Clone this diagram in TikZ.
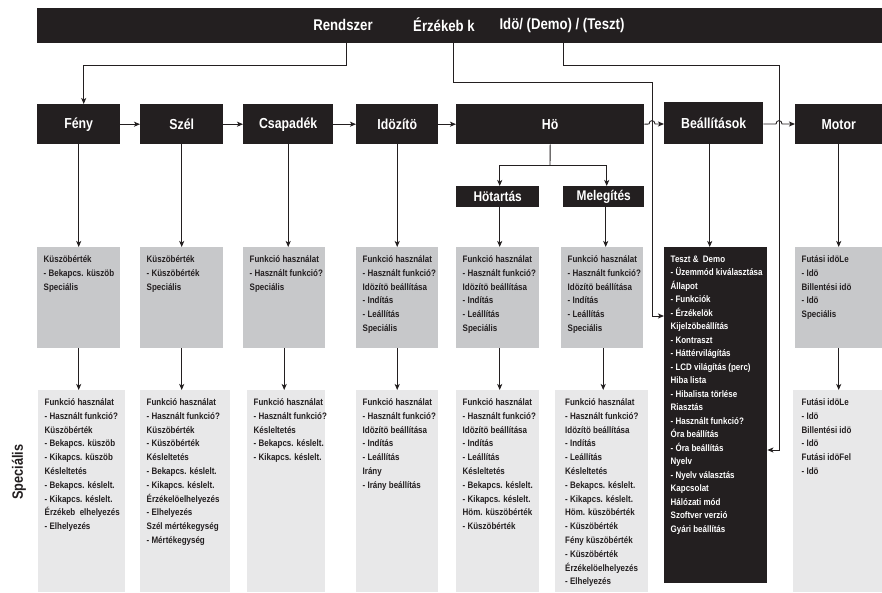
\documentclass[tikz,border=0pt]{standalone}
\usepackage{fontspec}
\setmainfont{Liberation Sans}[FakeStretch=0.85]
\usetikzlibrary{arrows.meta}
\definecolor{ink}{HTML}{231F20}
\definecolor{gA}{HTML}{C7C8CA}
\definecolor{gB}{HTML}{E8E8E9}
\begin{document}
\begin{tikzpicture}[x=1pt,y=-1pt,
  arr/.style={draw=ink, line width=0.9pt, -{Stealth[length=6pt,width=5pt,inset=1.5pt]}},
  ln/.style={draw=ink, line width=0.9pt},
  hdr/.style={fill=ink, text=white, inner sep=0pt, anchor=north west, font=\bfseries\fontsize{14.5}{16}\selectfont},
  gboxA/.style={fill=gA, inner sep=0pt, anchor=north west},
  gboxB/.style={fill=gB, inner sep=0pt, anchor=north west},
  kbox/.style={fill=ink, inner sep=0pt, anchor=north west},
  btxt/.style={anchor=north west, inner sep=0pt, align=left, text=ink, font=\bfseries\fontsize{9.4}{13.8}\selectfont},
  wtxt/.style={anchor=north west, inner sep=0pt, align=left, text=white, font=\bfseries\fontsize{9.4}{13.5}\selectfont},
  toptxt/.style={text=white, inner sep=0pt, font=\bfseries\fontsize{15.5}{18}\selectfont},
  sidetxt/.style={text=ink, inner sep=0pt, rotate=90, font=\bfseries\fontsize{15}{17}\selectfont}
]
\useasboundingbox (0,0) rectangle (882,592);
\fill[white] (0,0) rectangle (882,592);

% top bar
\node[kbox, minimum width=845pt, minimum height=35pt] (top) at (37,8) {};
\node[toptxt] (rendszer) at (343,25) {Rendszer};
\node[toptxt] (erz) at (444,25) {Érzékeb k};
\node[toptxt] (ido) at (562,25) {Idö/ (Demo) / (Teszt)};

% row 1 headers
\node[hdr, minimum width=83pt, minimum height=40pt] (fenyA) at (37,104) {Fény};
\node[hdr, minimum width=83pt, minimum height=40pt] (szelA) at (140,104) {Szél};
\node[hdr, minimum width=90pt, minimum height=40pt] (csapA) at (243,104) {Csapadék};
\node[hdr, minimum width=82pt, minimum height=40pt] (idozA) at (356,104) {Idözítö};
\node[hdr, minimum width=188pt, minimum height=40pt] (hoA) at (456,104) {Hö};
\node[hdr, minimum width=99pt, minimum height=42pt] (beaA) at (664,102) {Beállítások};
\node[hdr, minimum width=87pt, minimum height=40pt] (motA) at (795,104) {Motor};
\node[hdr, minimum width=83pt, minimum height=21pt, font=\bfseries\fontsize{14}{16}\selectfont] (hotA) at (456,186) {Hötartás};
\node[hdr, minimum width=81pt, minimum height=21pt, font=\bfseries\fontsize{14}{16}\selectfont] (melA) at (563,186) {Melegítés};

% row 2 boxes
\node[gboxA, minimum width=83pt, minimum height=101pt] (fenyB) at (37,247) {};
\node[gboxA, minimum width=83pt, minimum height=101pt] (szelB) at (140,247) {};
\node[gboxA, minimum width=82pt, minimum height=101pt] (csapB) at (243,247) {};
\node[gboxA, minimum width=82pt, minimum height=101pt] (idozB) at (356,247) {};
\node[gboxA, minimum width=83pt, minimum height=101pt] (hotB) at (456,247) {};
\node[gboxA, minimum width=82pt, minimum height=101pt] (melB) at (561,247) {};
\node[kbox, minimum width=103pt, minimum height=336pt] (beaB) at (664,247) {};
\node[gboxA, minimum width=87pt, minimum height=101pt] (motB) at (795,247) {};

% row 3 boxes
\node[gboxB, minimum width=87pt, minimum height=202pt] (fenyC) at (38,390) {};
\node[gboxB, minimum width=90pt, minimum height=202pt] (szelC) at (140,390) {};
\node[gboxB, minimum width=78pt, minimum height=202pt] (csapC) at (247,390) {};
\node[gboxB, minimum width=82pt, minimum height=202pt] (idozC) at (356,390) {};
\node[gboxB, minimum width=83pt, minimum height=202pt] (hoC) at (456,390) {};
\node[gboxB, minimum width=93pt, minimum height=202pt] (melC) at (555,390) {};
\node[gboxB, minimum width=89pt, minimum height=202pt] (motC) at (793,390) {};

% row 2 texts
\node[btxt] at ([shift={(6.5pt,-5.6pt)}]fenyB.north west) {\strut Küszöbérték\\- Bekapcs. küszöb\\Speciális};
\node[btxt] at ([shift={(6.5pt,-5.6pt)}]szelB.north west) {\strut Küszöbérték\\- Küszöbérték\\Speciális};
\node[btxt] at ([shift={(6.5pt,-5.6pt)}]csapB.north west) {\strut Funkció használat\\- Használt funkció?\\Speciális};
\node[btxt] at ([shift={(6.5pt,-5.6pt)}]idozB.north west) {\strut Funkció használat\\- Használt funkció?\\Idözítö beállítása\\- Indítás\\- Leállítás\\Speciális};
\node[btxt] at ([shift={(6.5pt,-5.6pt)}]hotB.north west) {\strut Funkció használat\\- Használt funkció?\\Idözítö beállítása\\- Indítás\\- Leállítás\\Speciális};
\node[btxt] at ([shift={(6.5pt,-5.6pt)}]melB.north west) {\strut Funkció használat\\- Használt funkció?\\Idözítö beállítása\\- Indítás\\- Leállítás\\Speciális};
\node[wtxt] at ([shift={(6.5pt,-5.6pt)}]beaB.north west) {\strut Teszt \&\ \ Demo\\- Üzemmód kiválasztása\\Állapot\\- Funkciók\\- Érzékelök\\Kijelzöbeállítás\\- Kontraszt\\- Háttérvilágítás\\- LCD világítás (perc)\\Hiba lista\\- Hibalista törlése\\Riasztás\\- Használt funkció?\\Óra beállítás\\- Óra beállítás\\Nyelv\\- Nyelv választás\\Kapcsolat\\Hálózati mód\\Szoftver verzió\\Gyári beállítás};
\node[btxt] at ([shift={(6.5pt,-5.6pt)}]motB.north west) {\strut Futási idöLe\\- Idö\\Billentési idö\\- Idö\\Speciális};

% row 3 texts
\node[btxt] at ([shift={(6.5pt,-5.6pt)}]fenyC.north west) {\strut Funkció használat\\- Használt funkció?\\Küszöbérték\\- Bekapcs. küszöb\\- Kikapcs. küszöb\\Késleltetés\\- Bekapcs. késlelt.\\- Kikapcs. késlelt.\\Érzékeb\ \ elhelyezés\\- Elhelyezés};
\node[btxt] at ([shift={(6.5pt,-5.6pt)}]szelC.north west) {\strut Funkció használat\\- Használt funkció?\\Küszöbérték\\- Küszöbérték\\Késleltetés\\- Bekapcs. késlelt.\\- Kikapcs. késlelt.\\Érzékelöelhelyezés\\- Elhelyezés\\Szél mértékegység\\- Mértékegység};
\node[btxt] at ([shift={(6.5pt,-5.6pt)}]csapC.north west) {\strut Funkció használat\\- Használt funkció?\\Késleltetés\\- Bekapcs. késlelt.\\- Kikapcs. késlelt.};
\node[btxt] at ([shift={(6.5pt,-5.6pt)}]idozC.north west) {\strut Funkció használat\\- Használt funkció?\\Idözítö beállítása\\- Indítás\\- Leállítás\\Irány\\- Irány beállítás};
\node[btxt] at ([shift={(6.5pt,-5.6pt)}]hoC.north west) {\strut Funkció használat\\- Használt funkció?\\Idözítö beállítása\\- Indítás\\- Leállítás\\Késleltetés\\- Bekapcs. késlelt.\\- Kikapcs. késlelt.\\Höm. küszöbérték\\- Küszöbérték};
\node[btxt] at ([shift={(10pt,-5.6pt)}]melC.north west) {\strut Funkció használat\\- Használt funkció?\\Idözítö beállítása\\- Indítás\\- Leállítás\\Késleltetés\\- Bekapcs. késlelt.\\- Kikapcs. késlelt.\\Höm. küszöbérték\\- Küszöbérték\\Fény küszöbérték\\- Küszöbérték\\Érzékelöelhelyezés\\- Elhelyezés};
\node[btxt] at ([shift={(8.5pt,-5.6pt)}]motC.north west) {\strut Futási idöLe\\- Idö\\Billentési idö\\- Idö\\Futási idöFel\\- Idö};

% side label
\node[sidetxt] (spec) at (19,472) {Speciális};

% top connectors
\coordinate (r1) at (346,65);
\coordinate (e1) at (453,82);
\coordinate (e2) at (652,82);
\coordinate (eIn) at (652,316);
\coordinate (i1) at (563,65);
\coordinate (i2) at (779,65);
\coordinate (iIn) at (779,450);
\draw[arr] (r1 |- top.south) -- (r1) -| ([xshift=5pt]fenyA.north);
\draw[arr] (e1 |- top.south) -- (e1) -- (e2) -- (eIn) -- (beaB.west |- eIn);
\draw[arr] (i1 |- top.south) -- (i1) -- (i2) -- (iIn) -- (beaB.east |- iIn);

% header chain
\draw[arr] (fenyA.east) -- (szelA.west);
\draw[arr] (szelA.east) -- (csapA.west);
\draw[arr] (csapA.east) -- (idozA.west);
\draw[arr] (idozA.east) -- (hoA.west);
\coordinate (j1) at (652,124);
\coordinate (j2) at (779,124);
\draw[arr] (hoA.east) -- ([xshift=-3pt]j1) .. controls +(0,-4.5) and +(0,-4.5) .. ([xshift=3pt]j1) -- (beaA.west |- j1);
\draw[arr] (beaA.east |- j2) -- ([xshift=-3pt]j2) .. controls +(0,-4.5) and +(0,-4.5) .. ([xshift=3pt]j2) -- (motA.west |- j2);

% Hö subtree
\coordinate (hs) at (550,165);
\draw[ln] (hoA.south) -- (hs);
\draw[arr] (hs) -| ([xshift=2pt]hotA.north);
\draw[arr] (hs) -| ([xshift=3pt]melA.north);

% row1 -> row2
\draw[arr] (fenyA.south) -- (fenyA.south |- fenyB.north);
\draw[arr] (szelA.south) -- (szelA.south |- szelB.north);
\draw[arr] (csapA.south) -- (csapA.south |- csapB.north);
\draw[arr] (idozA.south) -- (idozA.south |- idozB.north);
\draw[arr] ([xshift=2pt]hotA.south) -- ([xshift=2pt]hotA.south |- hotB.north);
\draw[arr] ([xshift=2pt]melA.south) -- ([xshift=2pt]melA.south |- melB.north);
\draw[arr] ([xshift=-4pt]beaA.south) -- ([xshift=-4pt]beaA.south |- beaB.north);
\draw[arr] (motA.south) -- (motA.south |- motB.north);

% row2 -> row3
\draw[arr] (fenyB.south) -- (fenyB.south |- fenyC.north);
\draw[arr] (szelB.south) -- (szelB.south |- szelC.north);
\draw[arr] (csapB.south) -- (csapB.south |- csapC.north);
\draw[arr] (idozB.south) -- (idozB.south |- idozC.north);
\draw[arr] ([xshift=2pt]hotB.south) -- ([xshift=2pt]hotB.south |- hoC.north);
\draw[arr] ([xshift=1pt]melB.south) -- ([xshift=1pt]melB.south |- melC.north);
\draw[arr] (motB.south) -- (motB.south |- motC.north);
\end{tikzpicture}
\end{document}
